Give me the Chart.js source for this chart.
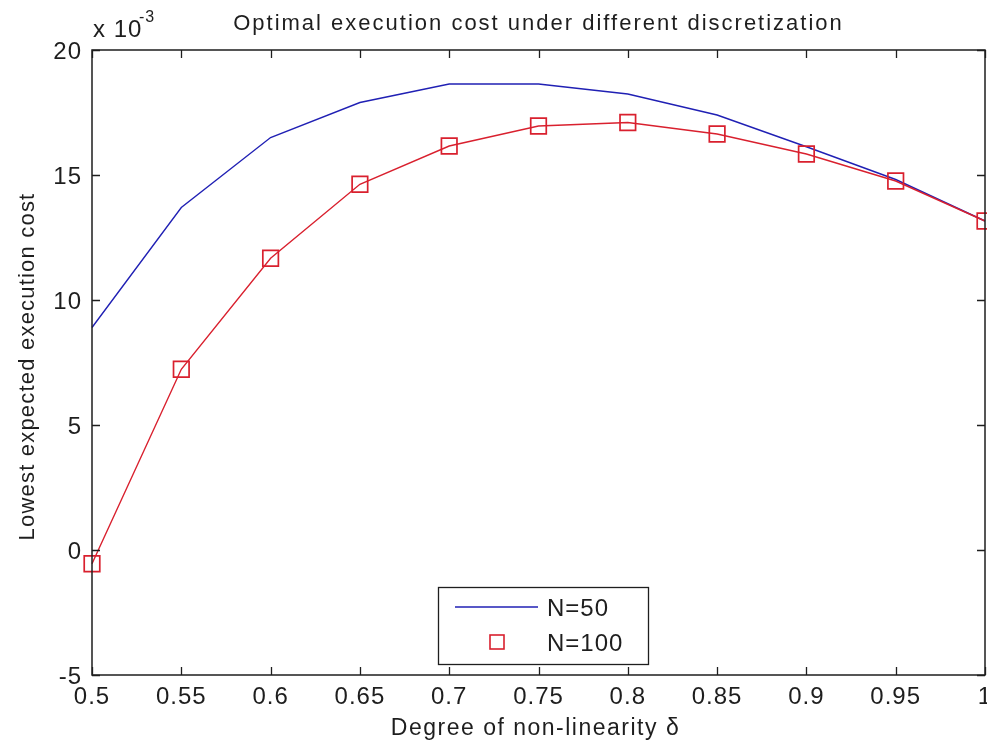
<!DOCTYPE html>
<html>
<head>
<meta charset="utf-8">
<script src="https://cdn.jsdelivr.net/npm/chart.js@4.4.1/dist/chart.umd.min.js"></script>
<style>
    html, body { margin: 0; padding: 0; background: #fff; }
    #wrap { width: 987px; height: 745px; }
</style>
</head>
<body>
<div id="wrap"><canvas id="exec-cost" width="987" height="745"></canvas></div>
<script>
// values are in units of 10^-3 (the axis shows the "x 10^-3" multiplier)
const delta = [0.5, 0.55, 0.6, 0.65, 0.7, 0.75, 0.8, 0.85, 0.9, 0.95, 1.0];
const costN50 = [8.9, 13.7, 16.5, 17.9, 18.64, 18.64, 18.24, 17.4, 16.13, 14.82, 13.16];
const costN100 = [-0.55, 7.23, 11.67, 14.63, 16.16, 16.96, 17.1, 16.64, 15.84, 14.76, 13.16];

const xTicks = [0.5, 0.55, 0.6, 0.65, 0.7, 0.75, 0.8, 0.85, 0.9, 0.95, 1];
const xTickLabels = ['0.5', '0.55', '0.6', '0.65', '0.7', '0.75', '0.8', '0.85', '0.9', '0.95', '1'];
const yTicks = [-5, 0, 5, 10, 15, 20];
const yTickLabels = ['-5', '0', '5', '10', '15', '20'];

const seriesLabels = ['N=50', 'N=100'];
const titleText = 'Optimal execution cost under different discretization';
const xTitle = 'Degree of non-linearity \u03b4';
const yTitle = 'Lowest expected execution cost';

const FONT = '"Liberation Sans", Arial, sans-serif';
const INK = '#1e1e1e';

// MATLAB-like frame: boxed axes, ticks pointing inward, hand-drawn texts
const matlabAxes = {
    id: 'matlabAxes',
    afterDraw(chart) {
        const { ctx, chartArea: ca, scales } = chart;
        const xs = scales.x, ys = scales.y;
        ctx.save();

        // frame
        ctx.strokeStyle = INK;
        ctx.lineWidth = 1.5;
        ctx.strokeRect(ca.left, ca.top, ca.right - ca.left, ca.bottom - ca.top);

        // inward ticks on all four sides
        ctx.lineWidth = 1.3;
        const tl = 8;
        ctx.beginPath();
        xTicks.forEach(v => {
            const px = Math.round(xs.getPixelForValue(v)) + 0.5;
            ctx.moveTo(px, ca.bottom); ctx.lineTo(px, ca.bottom - tl);
            ctx.moveTo(px, ca.top); ctx.lineTo(px, ca.top + tl);
        });
        yTicks.forEach(v => {
            const py = Math.round(ys.getPixelForValue(v)) + 0.5;
            ctx.moveTo(ca.left, py); ctx.lineTo(ca.left + tl, py);
            ctx.moveTo(ca.right, py); ctx.lineTo(ca.right - tl, py);
        });
        ctx.stroke();

        // tick labels
        ctx.fillStyle = INK;
        ctx.font = '24px ' + FONT;
        ctx.letterSpacing = '1px';
        ctx.textBaseline = 'alphabetic';
        ctx.textAlign = 'center';
        xTicks.forEach((v, i) => {
            ctx.fillText(xTickLabels[i], xs.getPixelForValue(v), ca.bottom + 29);
        });
        ctx.textAlign = 'right';
        yTicks.forEach((v, i) => {
            ctx.fillText(yTickLabels[i], ca.left - 10, ys.getPixelForValue(v) + 8.5);
        });

        // exponent marker above the y axis
        ctx.textAlign = 'left';
        ctx.fillText('x 10', ca.left + 1, ca.top - 13);
        ctx.font = '16px ' + FONT;
        ctx.fillText('-3', ca.left + 47, ca.top - 28);

        // title and axis titles
        const midX = (ca.left + ca.right) / 2;
        ctx.textAlign = 'center';
        ctx.font = '22px ' + FONT;
        ctx.letterSpacing = '2px';
        ctx.fillText(titleText, midX, ca.top - 20);
        ctx.font = '23px ' + FONT;
        ctx.letterSpacing = '1.5px';
        ctx.fillText(xTitle, midX - 3, ca.bottom + 60);
        ctx.save();
        ctx.translate(34, (ca.top + ca.bottom) / 2 + 4);
        ctx.rotate(-Math.PI / 2);
        ctx.font = '22px ' + FONT;
        ctx.letterSpacing = '1.2px';
        ctx.fillText(yTitle, 0, 0);
        ctx.restore();

        // legend box inside the axes, bottom centre
        const lx = ca.left + 346, ly = ca.bottom - 88, lw = 210, lh = 77;
        ctx.fillStyle = '#fff';
        ctx.fillRect(lx, ly, lw, lh);
        ctx.strokeStyle = INK;
        ctx.lineWidth = 1.3;
        ctx.strokeRect(lx + 0.5, ly + 0.5, lw, lh);

        const sets = chart.data.datasets;
        const rowY = [ly + 20, ly + 55];
        // N=50: line sample
        ctx.strokeStyle = sets[0].borderColor;
        ctx.lineWidth = 1.6;
        ctx.beginPath();
        ctx.moveTo(lx + 17, rowY[0]); ctx.lineTo(lx + 100, rowY[0]);
        ctx.stroke();
        // N=100: marker sample
        ctx.strokeStyle = sets[1].borderColor;
        ctx.lineWidth = 1.6;
        ctx.strokeRect(lx + 52, rowY[1] - 7, 14, 14);

        ctx.fillStyle = INK;
        ctx.font = '24px ' + FONT;
        ctx.letterSpacing = '1px';
        ctx.textAlign = 'left';
        seriesLabels.forEach((s, i) => ctx.fillText(s, lx + 109, rowY[i] + 8.5));

        ctx.restore();
    },
};

new Chart(document.getElementById('exec-cost'), {
    type: 'line',
    data: {
        datasets: [
            {
                label: seriesLabels[0],
                data: delta.map((d, i) => ({ x: d, y: costN50[i] })),
                borderColor: '#2020b4',
                borderWidth: 1.4,
                pointRadius: 0,
                tension: 0,
                clip: false,
                order: 1,
            },
            {
                label: seriesLabels[1],
                data: delta.map((d, i) => ({ x: d, y: costN100[i] })),
                borderColor: '#d9202e',
                borderWidth: 1.4,
                pointStyle: 'rect',
                pointRadius: 11,
                pointBorderWidth: 1.7,
                pointBackgroundColor: 'rgba(0,0,0,0)',
                pointBorderColor: '#d9202e',
                tension: 0,
                clip: false,
                order: 0,
            },
        ],
    },
    options: {
        responsive: false,
        animation: false,
        devicePixelRatio: 1,
        layout: { autoPadding: false, padding: { left: 92, top: 50, right: 2, bottom: 70 } },
        scales: {
            x: { type: 'linear', min: 0.5, max: 1, display: false },
            y: { type: 'linear', min: -5, max: 20, display: false },
        },
        plugins: {
            legend: { display: false },
            tooltip: { enabled: false },
        },
        events: [],
    },
    plugins: [matlabAxes],
});
</script>
</body>
</html>
